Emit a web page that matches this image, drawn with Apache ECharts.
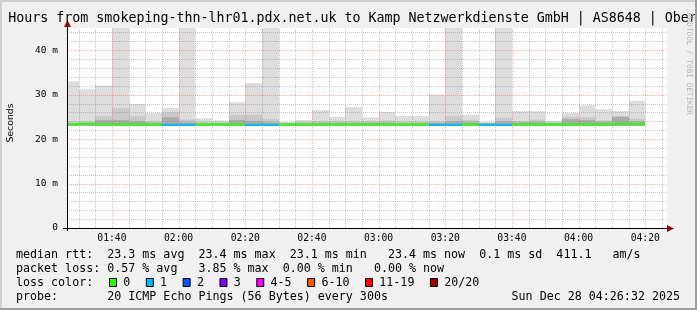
<!DOCTYPE html>
<html><head><meta charset="utf-8">
<script src="https://cdn.jsdelivr.net/npm/echarts@6/dist/echarts.min.js"></script>
<style>html,body{margin:0;padding:0;background:#f0f0f0}#c{width:697px;height:310px}</style>
</head><body><div id="c"></div>
<script>
// ---------------- data ----------------
const TITLE = 'Hours from smokeping-thn-lhr01.pdx.net.uk to Kamp Netzwerkdienste GmbH | AS8648 | Ober';
const PLOT_START = '01:26:32';
const PLOT_END = '04:26:32';
const STEP = 300;
const slotEnds = ['01:30','01:35','01:40','01:45','01:50','01:55','02:00','02:05','02:10','02:15','02:20','02:25',
  '02:30','02:35','02:40','02:45','02:50','02:55','03:00','03:05','03:10','03:15','03:20','03:25',
  '03:30','03:35','03:40','03:45','03:50','03:55','04:00','04:05','04:10','04:15','04:20'];
const medianMs = [23.3,23.4,23.3,23.3,23.3,23.3,23.2,23.2,23.3,23.3,23.3,23.2,
  23.2,23.3,23.3,23.3,23.3,23.3,23.3,23.3,23.3,23.3,23.2,23.2,
  23.3,23.2,23.2,23.3,23.3,23.3,23.3,23.3,23.3,23.4,23.4];
const smokeMin = [23.0,23.0,23.0,23.0,23.0,23.0,23.0,23.0,23.0,23.0,23.0,23.0,
  23.0,23.0,23.0,23.0,23.0,23.0,23.0,23.0,23.0,23.0,23.0,23.0,
  23.0,23.0,23.0,23.0,23.0,23.0,23.0,23.0,23.0,23.0,23.0];
const smokeInner = [23.6,23.7,24.3,24.3,24.0,23.7,24.9,23.8,23.6,23.6,24.3,24.1,
  23.8,23.6,23.6,23.7,23.7,23.7,23.7,23.7,23.6,23.6,23.7,24.0,
  23.8,23.6,24.0,23.8,23.8,23.6,24.5,24.3,23.9,25.0,24.0];
const smokeMid = [24.0,24.0,25.2,27.0,25.2,24.0,26.0,24.4,23.9,23.8,25.5,25.5,
  24.5,23.7,23.9,24.0,24.0,24.0,24.0,24.2,23.9,23.9,24.0,25.2,
  24.3,23.7,24.8,24.0,24.4,23.8,25.0,24.9,24.2,25.2,24.6];
const smokeMax = [33.0,31.2,32.0,60.0,27.9,25.9,27.0,60.0,24.7,24.2,28.3,32.6,
  60.0,23.8,24.3,26.5,25.0,27.2,24.9,26.1,25.2,25.2,30.0,60.0,
  25.5,23.8,60.0,26.3,26.3,24.1,25.9,27.6,26.7,26.3,28.6];
const lossPings = [0,0,0,0,0,0,1,1,0,0,0,1,
  1,0,0,0,0,0,0,0,0,0,1,1,
  0,1,1,0,0,0,0,0,0,0,0];
const yMax = 45;
const yTickValues = [0,10,20,30,40];
const xTickLabels = ['01:40','02:00','02:20','02:40','03:00','03:20','03:40','04:00','04:20'];
const lossLegend = ['0','1','2','3','4-5','6-10','11-19','20/20'];
const lossColors = ['#26ff00','#00b8ff','#0059ff','#7e00ff','#ff00ff','#ff5500','#ff0000','#a10000'];
const statRtt = 'median rtt:  23.3 ms avg  23.4 ms max  23.1 ms min   23.4 ms now  0.1 ms sd  411.1   am/s';
const statLoss = 'packet loss: 0.57 % avg   3.85 % max  0.00 % min   0.00 % now';
const lossLabel = 'loss color:';
const probeText = 'probe:       20 ICMP Echo Pings (56 Bytes) every 300s';
const dateText = 'Sun Dec 28 04:26:32 2025';
const watermark = 'RRDTOOL / TOBI OETIKER';

// ---------------- helpers ----------------
function toSec(s){const p=s.split(':').map(Number);return p[0]*3600+p[1]*60+(p[2]||0);}
function fmt(v){const h=Math.floor(v/3600),m=Math.floor((v%3600)/60);return String(h).padStart(2,'0')+':'+String(m).padStart(2,'0');}
function lossIdx(n){if(n<=0)return 0;if(n===1)return 1;if(n===2)return 2;if(n===3)return 3;if(n<=5)return 4;if(n<=10)return 5;if(n<=19)return 6;return 7;}
const T0 = toSec(PLOT_START), T1 = toSec(PLOT_END);
const smokeData = slotEnds.map((e,i)=>{const te=toSec(e);return [Math.max(te-STEP,T0),te,smokeMin[i],smokeInner[i],smokeMid[i],smokeMax[i],medianMs[i],lossPings[i]];});
const vGrid=[];for(let t=Math.ceil(T0/STEP)*STEP;t<T1;t+=STEP)vGrid.push([t,0]);
const hGrid=[];for(let v=2;v<yMax;v+=2)hGrid.push([T0,v]);

const MONO='"DejaVu Sans Mono"';
const GL=67, GT=28, GW=600, GH=200;

function clipRect(params, x0,y0,x1,y1){
  const cs=params.coordSys;
  const xa=Math.round(Math.min(x0,x1)), xb=Math.round(Math.max(x0,x1));
  const ya=Math.min(y0,y1), yb=Math.max(y0,y1);
  return echarts.graphic.clipRectByRect({x:xa,y:ya,width:xb-xa,height:yb-ya},{x:cs.x,y:cs.y,width:cs.width,height:cs.height});
}

function renderSmoke(params, api){
  const t0=api.value(0),t1=api.value(1),lo=api.value(2),inner=api.value(3),mid=api.value(4),hi=api.value(5);
  const layers=[[hi,'#dddddd'],[mid,'#c9c9c9'],[inner,'#ababab']];
  const children=[];
  for(const [top,col] of layers){
    const a=api.coord([t0,top]),b=api.coord([t1,lo]);
    const r=clipRect(params,a[0],a[1],b[0],b[1]);
    if(r)children.push({type:'rect',shape:r,style:{fill:col}});
  }
  return {type:'group',children};
}
function renderMedian(params, api){
  const t0=api.value(0),t1=api.value(1),med=api.value(6),loss=api.value(7);
  const a=api.coord([t0,med]),b=api.coord([t1,med]);
  const r=clipRect(params,a[0],a[1]-1,b[0],a[1]+1);
  return r?{type:'rect',shape:r,style:{fill:lossColors[lossIdx(loss)]}}:null;
}
function renderVGrid(params, api){
  const t=api.value(0);
  const a=api.coord([t,0]),b=api.coord([t,yMax]);
  const x=Math.round(a[0])+0.5;
  const major=(t%1200===0);
  return {type:'line',shape:{x1:x,y1:a[1],x2:x,y2:b[1]},style:{stroke:major?'rgba(255,90,90,0.5)':'rgba(130,130,130,0.45)',lineWidth:1,lineDash:[1,1]}};
}
function renderHGrid(params, api){
  const v=api.value(1);
  const a=api.coord([T0,v]),b=api.coord([T1,v]);
  const y=Math.round(a[1])+0.5;
  const major=(v%10===0);
  return {type:'line',shape:{x1:a[0],y1:y,x2:b[0],y2:y},style:{stroke:major?'rgba(255,90,90,0.5)':'rgba(130,130,130,0.45)',lineWidth:1,lineDash:[1,1]}};
}

// ---------------- graphics (text, legend, frame) ----------------
const CW=7.02;
const graphics=[];
function txt(text,x,y,font,opts){
  opts=opts||{};
  graphics.push({type:'text',x:x,y:y,rotation:opts.rot||0,z:100,silent:true,
    style:{text:text,font:font,fill:opts.fill||'#000',align:opts.align||'left',verticalAlign:'middle',textAlign:opts.align||'left',textVerticalAlign:'middle'}});
}
txt(TITLE,8.3,19,'13.3px '+MONO);
txt('Seconds',10.5,123,'9.3px "DejaVu Sans"',{align:'center',rot:Math.PI/2});
txt(watermark,689,64,'7.7px '+MONO,{align:'center',rot:-Math.PI/2,fill:'#b4b4b4'});
const LF='11.67px '+MONO;
txt(statRtt,16,254.5,LF);
txt(statLoss,16,268.5,LF);
txt(lossLabel,16,282.5,LF);
txt(probeText,16,296.5,LF);
txt(dateText,680,296.5,LF,{align:'right'});
let bx=109;
lossLegend.forEach((lab,i)=>{
  graphics.push({type:'rect',z:100,silent:true,shape:{x:bx+0.5,y:278.5,width:7,height:8},style:{fill:lossColors[i],stroke:'#000',lineWidth:1}});
  txt(lab,bx+14.3,282.5,LF);
  bx=bx+14.3+lab.length*CW+15.5;
});
// axes lines + arrows
graphics.push({type:'line',z:90,silent:true,shape:{x1:GL-4,y1:GT+GH+0.5,x2:GL+GW+2,y2:GT+GH+0.5},style:{stroke:'#000',lineWidth:1}});
graphics.push({type:'line',z:90,silent:true,shape:{x1:GL+0.5,y1:GT+GH+3,x2:GL+0.5,y2:GT-5},style:{stroke:'#000',lineWidth:1}});
graphics.push({type:'polygon',z:91,silent:true,shape:{points:[[GL+0.5,GT-8],[GL-3,GT-1],[GL+4,GT-1]]},style:{fill:'#8b0a0a'}});
graphics.push({type:'polygon',z:91,silent:true,shape:{points:[[GL+GW+7,GT+GH+0.5],[GL+GW,GT+GH-3],[GL+GW,GT+GH+4]]},style:{fill:'#8b0a0a'}});
// frame
graphics.push({type:'rect',z:200,silent:true,shape:{x:0,y:0,width:697,height:2},style:{fill:'#cfcfcf'}});
graphics.push({type:'rect',z:200,silent:true,shape:{x:0,y:0,width:2,height:310},style:{fill:'#cfcfcf'}});
graphics.push({type:'rect',z:201,silent:true,shape:{x:0,y:308,width:697,height:2},style:{fill:'#9e9e9e'}});
graphics.push({type:'rect',z:201,silent:true,shape:{x:695,y:0,width:2,height:310},style:{fill:'#9e9e9e'}});

// ---------------- chart ----------------
const chart=echarts.init(document.getElementById('c'),null,{renderer:'canvas'});
chart.setOption({
  backgroundColor:'#f0f0f0',
  animation:false,
  grid:{left:GL,top:GT,width:GW,height:GH,show:true,backgroundColor:'#ffffff',borderWidth:0},
  xAxis:{type:'value',min:T0,max:T1,
    axisLine:{show:false},axisTick:{show:false},splitLine:{show:false},
    axisLabel:{customValues:xTickLabels.map(toSec),formatter:v=>fmt(v),color:'#000',fontFamily:'DejaVu Sans Mono',fontSize:9.7,margin:5}},
  yAxis:{type:'value',min:0,max:yMax,interval:10,
    axisLine:{show:false},axisTick:{show:false},splitLine:{show:false},
    axisLabel:{customValues:yTickValues,formatter:v=>v===0?'0':v+' m',color:'#000',fontFamily:'DejaVu Sans Mono',fontSize:9.5,margin:9}},
  series:[
    {type:'custom',name:'smoke',renderItem:renderSmoke,data:smokeData,encode:{x:[0,1],y:[2,5]},z:1,silent:true},
    {type:'custom',name:'vgrid',renderItem:renderVGrid,data:vGrid,encode:{x:0,y:1},z:2,silent:true},
    {type:'custom',name:'hgrid',renderItem:renderHGrid,data:hGrid,encode:{x:0,y:1},z:2,silent:true},
    {type:'custom',name:'median',renderItem:renderMedian,data:smokeData,encode:{x:[0,1],y:6},z:3,silent:true}
  ],
  graphic:graphics
});
</script></body></html>
